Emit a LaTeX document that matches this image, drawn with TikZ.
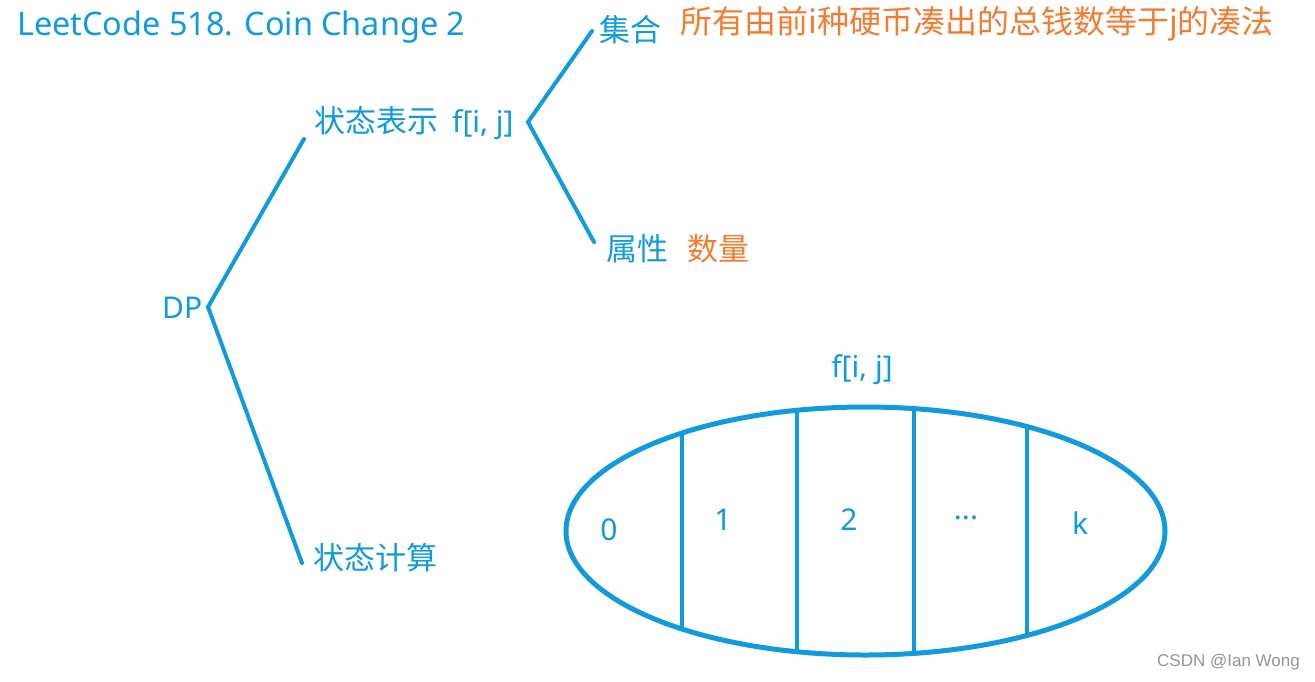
\documentclass[tikz,border=0pt]{standalone}
\usepackage{fontspec}
\setmainfont{Noto Sans CJK SC}
\newfontfamily\lat{Noto Sans}
\newfontfamily\wmfont{Liberation Sans}
\definecolor{mblue}{RGB}{18,155,220}
\definecolor{morange}{RGB}{240,125,50}
\definecolor{wmgray}{RGB}{150,150,150}
\begin{document}
\begin{tikzpicture}[x=1pt,y=-1pt,
  lbl/.style={text=mblue, font=\fontsize{31}{36}\selectfont, inner sep=0pt, anchor=west},
  olbl/.style={lbl, text=morange},
  cell/.style={text=mblue, font=\lat\fontsize{30}{36}\selectfont, inner sep=0pt, anchor=center},
  link/.style={draw=mblue, line width=4pt, line cap=round},
  arrline/.style={draw=mblue, line width=5pt},
]
\useasboundingbox (0,0) rectangle (1315,681);
\fill[white] (0,0) rectangle (1315,681);

% texts
\node[lbl, font=\lat\fontsize{32.4}{36}\selectfont] (title) at (17,27) {LeetCode 518. Coin Change 2};
\node[lbl, font=\lat\fontsize{30}{36}\selectfont] (dp) at (162,308) {DP};
\node[lbl] (rep) at (314,123) {状态表示\hspace{14pt}{\lat\fontsize{30}{36}\selectfont f[i, j]}};
\node[lbl] (set) at (599,30) {集合};
\node[olbl, font=\fontsize{32}{36}\selectfont] (setdesc) at (680,24) {所有由前i种硬币凑出的总钱数等于j的凑法};
\node[lbl] (attr) at (606,249) {属性};
\node[olbl] (attrdesc) at (687,249) {数量};
\node[lbl] (calc) at (313,558) {状态计算};
\node[cell] (fij) at (862,370) {f[i, j]};

% connector end points
\coordinate (dpR) at (208,307);
\coordinate (repL) at (304,139);
\coordinate (calcL) at (302,563);
\coordinate (repR) at (528,122);
\coordinate (setL) at (592,31);
\coordinate (attrL) at (594,242);

\draw[link] (repL) -- (dpR) -- (calcL);
\draw[link] (setL) -- (repR) -- (attrL);

% ellipse of f[i,j]
\coordinate (ec) at (865.5,531);
\begin{scope}
  \clip (ec) ellipse [x radius=299.5pt, y radius=124pt];
  \draw[draw=mblue, line width=4pt] (682,380) -- (682,680);
  \draw[draw=mblue, line width=4pt] (797,380) -- (797,680);
  \draw[draw=mblue, line width=4pt] (914,380) -- (914,680);
  \draw[draw=mblue, line width=4pt] (1027,380) -- (1027,680);
\end{scope}
\draw[arrline] (ec) ellipse [x radius=299.5pt, y radius=124pt];

\node[cell] (c0) at (609,530) {0};
\node[cell] (c1) at (723,520) {1};
\node[cell] (c2) at (849,520) {2};
\node[cell] (c3) at (966,518) {...};
\node[cell] (c4) at (1080,523) {k};

% watermark
\node[text=wmgray, font=\wmfont\fontsize{17}{20}\selectfont, inner sep=0pt, anchor=east] (wm) at (1300,662) {CSDN @Ian Wong};
\end{tikzpicture}
\end{document}
